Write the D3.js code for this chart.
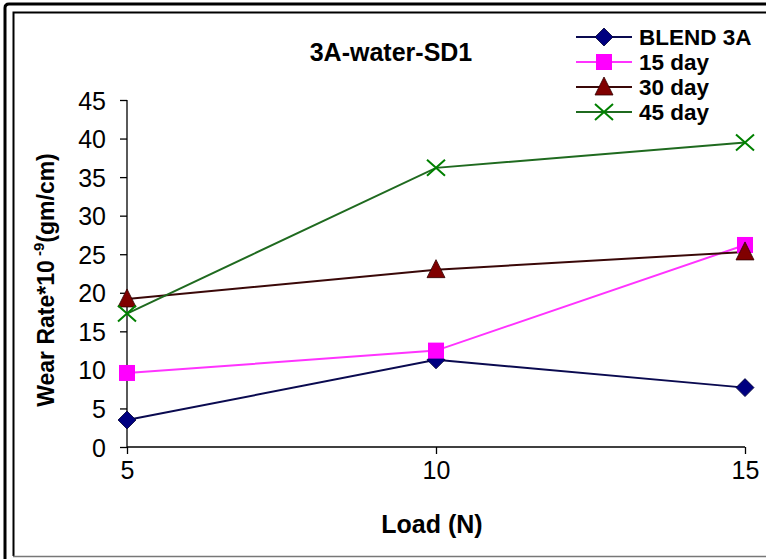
<!DOCTYPE html>
<html>
<head>
<meta charset="utf-8">
<script src="https://cdn.jsdelivr.net/npm/d3@7"></script>
<style>
  body { margin: 0; background: #fff; }
  svg { display: block; }
  text { font-family: Arial, "Liberation Sans", sans-serif; fill: #000; }
</style>
</head>
<body>
<svg id="chart" width="766" height="559"></svg>
<script>
// Wear rate (x10^-9 gm/cm) against load for blend 3A after water soaking
const loads = [5, 10, 15];
const blend3A = [3.5, 11.3, 7.7];
const day15 = [9.6, 12.5, 26.2];
const day30 = [19.2, 23.0, 25.3];
const day45 = [17.3, 36.2, 39.5];
const yTicks = [0, 5, 10, 15, 20, 25, 30, 35, 40, 45];
const seriesNames = ["BLEND 3A", "15 day", "30 day", "45 day"];
const seriesColors = ["#000080", "#ff00ff", "#800000", "#008000"];
const lineColors = ["#0a0a50", "#ff33ff", "#3a0808", "#1f6a1f"];
const markerKinds = ["diamond", "square", "triangle", "cross"];

const svg = d3.select("#chart");

// double frame (left/top) with a thin bottom rule
svg.append("path")
  .attr("d", "M5,559 V8 Q5,4 9,4 H766")
  .attr("fill", "none").attr("stroke", "#000").attr("stroke-width", 3);
svg.append("path")
  .attr("d", "M13.5,556 V12.5 H766")
  .attr("fill", "none").attr("stroke", "#000").attr("stroke-width", 2);
svg.append("line")
  .attr("x1", 13).attr("x2", 766).attr("y1", 556.5).attr("y2", 556.5)
  .attr("stroke", "#777").attr("stroke-width", 1.5);

const x = d3.scaleLinear().domain([5, 15]).range([127, 745]);
const y = d3.scaleLinear().domain([0, 45]).range([447, 100]);

// axes
const yAxis = d3.axisLeft(y).tickValues(yTicks).tickSize(7).tickPadding(14).tickFormat(d3.format("d"));
const gy = svg.append("g").attr("transform", `translate(${x(5)},0)`).call(yAxis);
gy.select(".domain").attr("stroke", "#000").attr("stroke-width", 1.3).attr("d", `M0,${y(0)}V${y(45)}`);
gy.selectAll(".tick line").attr("stroke", "#000").attr("stroke-width", 1.3);
gy.selectAll(".tick text").attr("font-size", 25).attr("fill", "#000").attr("dy", "0.36em");

const xAxis = d3.axisBottom(x).tickValues(loads).tickSize(7).tickPadding(7).tickFormat(d3.format("d"));
const gx = svg.append("g").attr("transform", `translate(0,${y(0)})`).call(xAxis);
gx.select(".domain").attr("stroke", "#000").attr("stroke-width", 1.3).attr("d", `M${x(5)},0H${x(15)}`);
gx.selectAll(".tick line").attr("stroke", "#000").attr("stroke-width", 1.3);
gx.selectAll(".tick text").attr("font-size", 25).attr("fill", "#000");

// titles
svg.append("text").attr("x", 391).attr("y", 61).attr("text-anchor", "middle")
  .attr("font-size", 25).attr("font-weight", "bold").text("3A-water-SD1");
svg.append("text").attr("x", 432).attr("y", 533).attr("text-anchor", "middle")
  .attr("font-size", 25).attr("font-weight", "bold").text("Load (N)");
const yt = svg.append("text").attr("transform", "translate(54,280) rotate(-90)")
  .attr("text-anchor", "middle").attr("font-size", 23).attr("font-weight", "bold");
yt.append("tspan").text("Wear Rate*10");
yt.append("tspan").attr("font-size", 15).attr("dy", -10).text(" -9");
yt.append("tspan").attr("dy", 10).text("(gm/cm)");

// marker drawing
function marker(g, kind, color, cx, cy) {
  if (kind === "diamond") {
    g.append("path").attr("d", `M${cx},${cy - 9}L${cx + 9},${cy}L${cx},${cy + 9}L${cx - 9},${cy}Z`)
      .attr("fill", color).attr("stroke", "#000030").attr("stroke-width", 0.8);
  } else if (kind === "square") {
    g.append("rect").attr("x", cx - 8).attr("y", cy - 8).attr("width", 16).attr("height", 16)
      .attr("fill", color);
  } else if (kind === "triangle") {
    g.append("path").attr("d", `M${cx},${cy - 10}L${cx + 9},${cy + 8}L${cx - 9},${cy + 8}Z`)
      .attr("fill", color).attr("stroke", "#300000").attr("stroke-width", 0.8);
  } else {
    g.append("path").attr("d", `M${cx - 9},${cy - 8}L${cx + 9},${cy + 8}M${cx - 9},${cy + 8}L${cx + 9},${cy - 8}`)
      .attr("stroke", color).attr("stroke-width", 2).attr("fill", "none");
  }
}

const seriesValues = [blend3A, day15, day30, day45];
const line = d3.line().x(d => x(d[0])).y(d => y(d[1]));

// lines first, then markers on top
seriesValues.forEach((vals, i) => {
  const pts = loads.map((l, j) => [l, vals[j]]);
  svg.append("path").datum(pts).attr("d", line)
    .attr("fill", "none").attr("stroke", lineColors[i]).attr("stroke-width", 2);
});
seriesValues.forEach((vals, i) => {
  const g = svg.append("g");
  loads.forEach((l, j) => marker(g, markerKinds[i], seriesColors[i], x(l), y(vals[j])));
});

// legend
const legendRows = [37, 62, 87, 112];
seriesNames.forEach((name, i) => {
  const ly = legendRows[i];
  const g = svg.append("g");
  g.append("line").attr("x1", 576).attr("x2", 632).attr("y1", ly).attr("y2", ly)
    .attr("stroke", lineColors[i]).attr("stroke-width", 2);
  marker(g, markerKinds[i], seriesColors[i], 604, ly);
  g.append("text").attr("x", 639).attr("y", ly).attr("dy", "0.36em")
    .attr("font-size", 22.5).attr("font-weight", "bold").text(name);
});
</script>
</body>
</html>
